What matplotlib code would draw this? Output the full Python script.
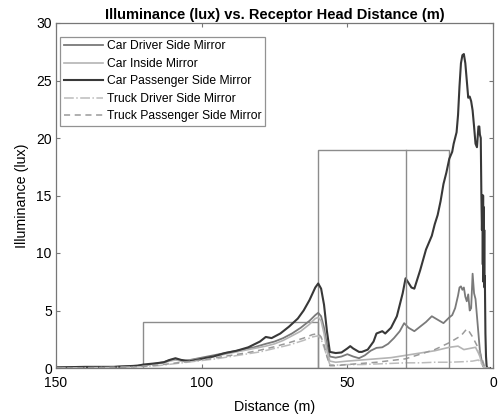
import matplotlib
matplotlib.use("Agg")
import matplotlib.pyplot as plt
from matplotlib.patches import Rectangle

plt.rcParams['font.family'] = ['Liberation Sans', 'DejaVu Sans']

# ---------------- data ----------------
x_car_pass = [150, 140, 130, 122, 120, 116, 113, 111, 109, 107, 104, 100, 96, 92, 88, 84, 80, 78, 76, 73,
              70, 67, 65, 63, 61, 60, 59, 58, 57, 56, 54, 52, 50, 49, 48, 46, 45, 43, 41, 40, 38, 37, 35,
              33, 31, 30, 29, 28, 27, 25, 23, 21, 20, 19, 18, 17, 16, 15, 14, 13.5, 13, 12.5, 12, 11.5,
              11, 10.5, 10, 9.5, 9, 8.5, 8, 7.5, 7, 6.5, 6, 5.5, 5, 4.7, 4.5, 4.2, 4, 3.8, 3.6, 3.5, 3.4,
              3.3, 3.2, 3.1, 3.0, 2.9, 2.8, 2.6, 2.4, 2.2, 2.0, 1.5, 1.0]
y_car_pass = [0.05, 0.1, 0.1, 0.2, 0.3, 0.4, 0.5, 0.7, 0.85, 0.7, 0.6, 0.8, 1.0, 1.3, 1.5, 1.8, 2.3, 2.7, 2.6, 3.0,
              3.6, 4.3, 5.0, 5.9, 7.0, 7.35, 6.9, 5.5, 3.2, 1.4, 1.3, 1.35, 1.7, 1.9, 1.7, 1.4, 1.4, 1.6,
              2.3, 3.0, 3.2, 3.0, 3.5, 4.5, 6.5, 7.8, 7.4, 7.0, 6.9, 8.5, 10.3, 11.5, 12.5, 13.3, 14.5,
              16.0, 17.0, 18.2, 18.8, 19.5, 20.0, 20.5, 22.0, 24.5, 26.5, 27.2, 27.3, 26.5, 25.0, 23.5,
              23.6, 23.2, 22.4, 21.0, 19.5, 19.2, 21.0, 21.0, 20.3, 20.0, 15.2, 12.0, 15.0, 9.0, 15.0,
              7.5, 14.0, 7.5, 12.0, 7.0, 8.0, 3.0, 1.0, 0.2, 0.0, 0.0, 0.0]

x_car_drv = [150, 130, 122, 118, 113, 111, 109, 106, 102, 98, 94, 90, 86, 82, 78, 75, 72, 69, 66, 63, 61,
             60, 59, 58, 57, 56, 54, 52, 50, 48, 46, 44, 42, 40, 38, 36, 34, 32, 30.5, 29, 27, 25, 23, 21,
             19, 17, 15, 14, 13, 12, 11.5, 11, 10.5, 10, 9.5, 9, 8.5, 8, 7.5, 7, 6.5, 6, 5.5, 5, 4.5, 4,
             3.5, 3, 2.5, 2, 1]
y_car_drv = [0.05, 0.1, 0.2, 0.3, 0.5, 0.7, 0.75, 0.6, 0.8, 1.0, 1.2, 1.4, 1.6, 1.8, 2.1, 2.3, 2.6, 3.0,
             3.5, 4.1, 4.6, 4.8, 4.5, 3.5, 2.0, 1.0, 0.9, 1.0, 1.2, 1.0, 0.85, 1.1, 1.5, 1.75, 1.8, 2.1,
             2.6, 3.2, 3.9, 3.5, 3.2, 3.6, 4.0, 4.5, 4.2, 3.9, 4.4, 4.6, 5.2, 6.3, 7.0, 7.1, 6.8, 7.0,
             6.2, 5.8, 6.4, 5.0, 5.2, 8.2, 6.5, 6.0, 4.5, 3.0, 1.5, 0.8, 0.2, 0.0, 0.0, 0.0, 0.0]

x_car_in = [150, 130, 122, 118, 113, 111, 109, 106, 102, 98, 94, 90, 86, 82, 78, 75, 72, 69, 66, 63, 61,
            60, 59, 58, 57, 56, 54, 50, 45, 40, 35, 30, 25, 20, 15, 12, 10, 8, 6, 5, 4.5, 4, 3, 2, 1]
y_car_in = [0.05, 0.1, 0.2, 0.3, 0.45, 0.6, 0.7, 0.55, 0.75, 0.9, 1.1, 1.3, 1.5, 1.7, 1.9, 2.1, 2.4, 2.8,
            3.2, 3.8, 4.3, 4.4, 4.1, 3.0, 1.5, 0.6, 0.5, 0.6, 0.7, 0.8, 0.9, 1.1, 1.3, 1.5, 1.8, 1.9,
            1.6, 1.7, 1.8, 1.3, 1.0, 0.5, 0.0, 0.0, 0.0]

x_truck_drv = [150, 130, 122, 115, 110, 105, 100, 95, 90, 85, 80, 75, 70, 65, 62, 60, 59, 58, 57, 56, 54,
               50, 45, 40, 35, 30, 25, 20, 15, 10, 7, 5, 4, 3, 2, 1]
y_truck_drv = [0.0, 0.05, 0.1, 0.2, 0.35, 0.5, 0.65, 0.8, 1.0, 1.2, 1.4, 1.7, 2.0, 2.4, 2.7, 2.8, 2.5,
               1.8, 1.0, 0.3, 0.25, 0.3, 0.3, 0.35, 0.4, 0.45, 0.45, 0.5, 0.5, 0.55, 0.6, 0.7, 0.4, 0.0,
               0.0, 0.0]

x_truck_pass = [150, 130, 122, 115, 110, 105, 100, 95, 90, 85, 80, 75, 70, 65, 62, 60, 59, 58, 57, 56, 54,
                50, 45, 40, 35, 30, 25, 20, 15, 11, 9, 8.5, 7, 6, 5, 4, 3, 2, 1]
y_truck_pass = [0.0, 0.05, 0.1, 0.25, 0.4, 0.55, 0.7, 0.9, 1.1, 1.3, 1.55, 1.85, 2.2, 2.6, 2.9, 3.0, 2.7,
                2.0, 1.0, 0.2, 0.2, 0.3, 0.4, 0.5, 0.65, 0.8, 1.2, 1.6, 2.2, 2.8, 3.4, 3.3, 2.7, 2.2,
                1.7, 1.0, 0.2, 0.0, 0.0]

labels = ['Car Driver Side Mirror', 'Car Inside Mirror', 'Car Passenger Side Mirror',
          'Truck Driver Side Mirror', 'Truck Passenger Side Mirror']

# zones
zone1_x = [120, 60]
zone1_h = 4
zone2_x = [60, 15]
zone2_h = 19
zone2_mid = 30

# ---------------- figure ----------------
fig = plt.figure(figsize=(4.98, 4.17), dpi=100)
ax = fig.add_axes([56 / 498, 1 - 368 / 417, (493 - 56) / 498, (368 - 23) / 417])

ax.plot(x_car_drv, y_car_drv, color='#7a7a7a', lw=1.3, label=labels[0])
ax.plot(x_car_in, y_car_in, color='#b4b4b4', lw=1.2, label=labels[1])
ax.plot(x_car_pass, y_car_pass, color='#383838', lw=1.5, label=labels[2])
ax.plot(x_truck_drv, y_truck_drv, color='#bcbcbc', lw=1.1, ls='-.', label=labels[3])
ax.plot(x_truck_pass, y_truck_pass, color='#9a9a9a', lw=1.1, ls='--', dashes=(4, 3), label=labels[4])

rc = '#8c8c8c'
ax.add_patch(Rectangle((zone1_x[1], 0), zone1_x[0] - zone1_x[1], zone1_h, fill=False, ec=rc, lw=1.0))
ax.add_patch(Rectangle((zone2_x[1], 0), zone2_x[0] - zone2_x[1], zone2_h, fill=False, ec=rc, lw=1.0))
ax.plot([zone2_mid, zone2_mid], [0, zone2_h], color=rc, lw=1.0)

ax.set_xlim(150, 0)
ax.set_ylim(0, 30)
ax.set_xticks([150, 100, 50, 0])
ax.set_yticks([0, 5, 10, 15, 20, 25, 30])
ax.tick_params(direction='in', top=True, right=True, labelsize=10, length=3, color='#777777')
ax.tick_params(axis='x', pad=6)
ax.tick_params(axis='y', pad=3)
for s in ax.spines.values():
    s.set_color('#777777')
    s.set_linewidth(0.9)

ax.set_title('Illuminance (lux) vs. Receptor Head Distance (m)', fontsize=10.5, fontweight='bold', pad=3)
ax.set_xlabel('Distance (m)', fontsize=10.3, labelpad=7)
ax.set_ylabel('Illuminance (lux)', fontsize=10.3, labelpad=5)

leg = ax.legend(loc='upper left', bbox_to_anchor=(0.009, 0.96), fontsize=8.7, frameon=True,
                fancybox=False, edgecolor='#777777', handlelength=3.3, handletextpad=0.3,
                borderpad=0.3, labelspacing=0.45, borderaxespad=0.0)
leg.get_frame().set_linewidth(0.9)

fig.savefig('out.png', dpi=100)
